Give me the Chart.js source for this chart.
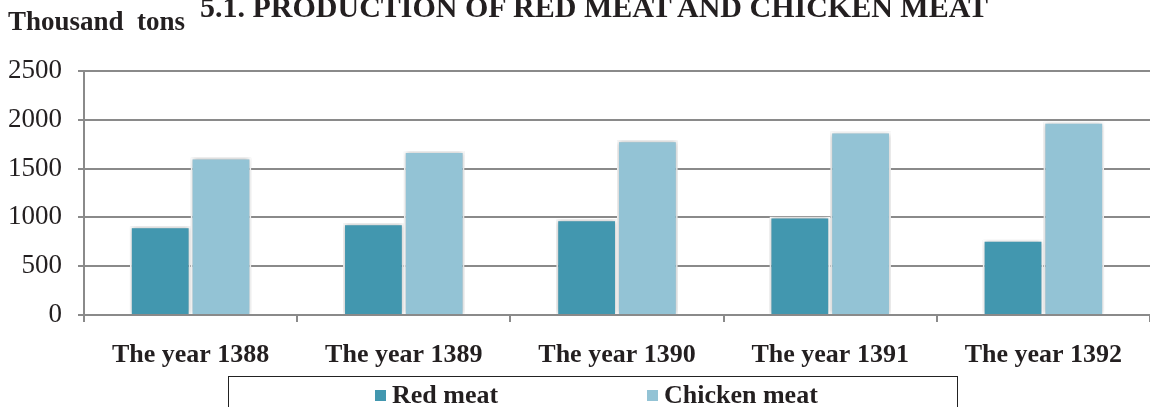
<!DOCTYPE html>
<html lang="en">
<head>
    <meta charset="UTF-8">
    <title>Production of red meat and chicken meat</title>
    <script src="https://cdn.jsdelivr.net/npm/chart.js@4.4.0/dist/chart.umd.min.js"></script>
    <style>
        html, body { margin: 0; padding: 0; background: #fff; overflow: hidden; }
        #wrap { position: relative; width: 1150px; height: 407px; font-family: "Liberation Serif", "Times New Roman", serif; color: #231f20; }
        #chart { position: absolute; left: 0; top: 0; }
        .title { position: absolute; font-weight: bold; white-space: pre; line-height: 1; }
        #legend { position: absolute; left: 228px; top: 376px; width: 730px; height: 40px; border: 1px solid #222; box-sizing: border-box; }
        .item { position: absolute; top: 5px; font-weight: bold; font-size: 26px; line-height: 1; white-space: pre; }
        .box { display: inline-block; width: 11px; height: 11px; margin-right: 6px; vertical-align: 2px; }
    </style>
</head>
<body>
<div id="wrap">
    <canvas id="chart" width="1150" height="407"></canvas>
    <div class="title" style="left:8px; top:8px; font-size:27px;">Thousand  tons</div>
    <div class="title" style="left:200px; top:-8px; font-size:30px;">5.1. PRODUCTION OF RED MEAT AND CHICKEN MEAT</div>
    <div id="legend"></div>
</div>
<script>
const years = ['The year 1388', 'The year 1389', 'The year 1390', 'The year 1391', 'The year 1392'];
const redMeat = [910, 940, 980, 1010, 770];
const chickenMeat = [1615, 1680, 1790, 1880, 1980];
const yTicks = [0, 500, 1000, 1500, 2000, 2500];

const colors = { red: '#4297af', chicken: '#93c3d5' };

// soft shadow round the bars, which breaks the grid lines like in the original
const barShadow = {
  id: 'barShadow',
  beforeDatasetsDraw(chart) {
    const ctx = chart.ctx;
    ctx.save();
    ctx.shadowColor = 'rgba(0,0,0,0.3)';
    ctx.shadowBlur = 5;
  },
  afterDatasetsDraw(chart) {
    chart.ctx.restore();
  }
};

const ctx = document.getElementById('chart').getContext('2d');
const chart = new Chart(ctx, {
  type: 'bar',
  data: {
    labels: years,
    datasets: [
      { label: 'Red meat', data: redMeat, backgroundColor: colors.red, borderColor: '#fff', borderWidth: 2, borderSkipped: 'bottom' },
      { label: 'Chicken meat', data: chickenMeat, backgroundColor: colors.chicken, borderColor: '#fff', borderWidth: 2, borderSkipped: 'bottom' }
    ]
  },
  options: {
    responsive: false,
    animation: false,
    layout: { padding: { top: 71, right: 0, left: 0, bottom: 0 } },
    plugins: {
      legend: { display: false },
      tooltip: { enabled: false }
    },
    datasets: {
      bar: { categoryPercentage: 0.57, barPercentage: 1 }
    },
    scales: {
      x: {
        afterFit(scale) { scale.height = 92; },
        grid: { drawOnChartArea: false, drawTicks: true, tickLength: 7, color: '#8a8a8a', lineWidth: 2, offset: true },
        border: { display: true, color: '#8a8a8a', width: 2 },
        ticks: {
          color: '#231f20',
          padding: 18,
          font: { family: '"Liberation Serif", "Times New Roman", serif', size: 26, weight: 'bold' }
        }
      },
      y: {
        min: 0,
        max: 2500,
        afterFit(scale) { scale.width = 84; },
        afterBuildTicks(scale) { scale.ticks = yTicks.map(v => ({ value: v })); },
        grid: { color: '#8a8a8a', lineWidth: 2, tickLength: 6 },
        border: { display: true, color: '#8a8a8a', width: 2 },
        ticks: {
          color: '#231f20',
          padding: 16,
          callback: v => String(v),
          font: { family: '"Liberation Serif", "Times New Roman", serif', size: 27 }
        }
      }
    }
  },
  plugins: [barShadow]
});

// legend in a framed box under the axis
const legend = document.getElementById('legend');
const legendLeft = [146, 418];
chart.data.datasets.forEach((ds, i) => {
  const item = document.createElement('div');
  item.className = 'item';
  item.style.left = legendLeft[i] + 'px';
  item.innerHTML = '<span class="box" style="background:' + ds.backgroundColor + '"></span>' + ds.label;
  legend.appendChild(item);
});
</script>
</body>
</html>
